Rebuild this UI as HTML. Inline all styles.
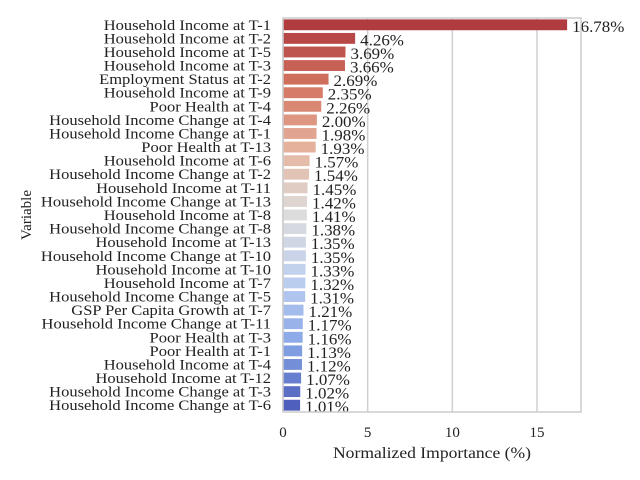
<!DOCTYPE html>
<html><head><meta charset="utf-8"><style>
body{margin:0;background:#fff}
svg{display:block;font-family:"Liberation Serif",serif}
</style></head><body>
<svg id="chart" width="640" height="480">
<g id="grid"></g><g id="bars"></g><g id="labels"></g><g id="frame"></g>
<text x="432" y="458" font-size="16" text-anchor="middle" fill="#222" textLength="198" lengthAdjust="spacingAndGlyphs">Normalized Importance (%)</text>
<text x="0" y="0" font-size="15" text-anchor="middle" fill="#222" transform="translate(31,215) rotate(-90)">Variable</text>
</svg>
<script>
const categories=["Household Income at T-1","Household Income at T-2","Household Income at T-5","Household Income at T-3","Employment Status at T-2","Household Income at T-9","Poor Health at T-4","Household Income Change at T-4","Household Income Change at T-1","Poor Health at T-13","Household Income at T-6","Household Income Change at T-2","Household Income at T-11","Household Income Change at T-13","Household Income at T-8","Household Income Change at T-8","Household Income at T-13","Household Income Change at T-10","Household Income at T-10","Household Income at T-7","Household Income Change at T-5","GSP Per Capita Growth at T-7","Household Income Change at T-11","Poor Health at T-3","Poor Health at T-1","Household Income at T-4","Household Income at T-12","Household Income Change at T-3","Household Income Change at T-6"];
const values=[16.78,4.26,3.69,3.66,2.69,2.35,2.26,2.00,1.98,1.93,1.57,1.54,1.45,1.42,1.41,1.38,1.35,1.35,1.33,1.32,1.31,1.21,1.17,1.16,1.13,1.12,1.07,1.02,1.01];
const xTicks=[0,5,10,15];
</script>
<script>
const NS="http://www.w3.org/2000/svg";
const L=283,R=581,T=18,B=412,XMAX=17.6;
const x=v=>L+v/XMAX*(R-L);
const n=values.length, step=(B-T)/n;
const y=i=>T+i*step;
function mk(tag,a,parent){const e=document.createElementNS(NS,tag);for(const k in a)e.setAttribute(k,a[k]);document.getElementById(parent).appendChild(e);return e;}
const stops=[[176,60,64],[212,118,98],[230,182,162],[220,220,220],[190,208,240],[138,167,232],[78,96,188]];
function col(t){const p=t*(stops.length-1),i=Math.min(Math.floor(p),stops.length-2),f=p-i;const a=stops[i],b=stops[i+1];return `rgb(${a.map((v,k)=>Math.round(v+(b[k]-v)*f)).join(',')})`;}
function stretch(el,k){const w=el.getComputedTextLength();el.setAttribute('textLength',w*k);el.setAttribute('lengthAdjust','spacingAndGlyphs');}
xTicks.forEach(t=>{
 const g=mk('line',{x1:x(t),x2:x(t),y1:T,y2:B,stroke:'#d0d0d0','stroke-width':1.5},'grid');
 
 
 const tl=mk('text',{x:x(t),y:437,'font-size':15,'text-anchor':'middle',fill:'#222'},'labels');
 tl.textContent=t;
 
 
});
values.forEach((v,i)=>{
 const h=step*0.8, yc=y(i)+step/2;
 const r=mk('rect',{x:L,y:yc-h/2,width:x(v)-L,height:h,fill:col(i/(n-1))},'bars');
 
 
 const vl=mk('text',{x:x(v)+5,y:yc+7,'font-size':16,fill:'#222'},'labels');
 vl.textContent=v.toFixed(2)+'%';
 
 
 stretch(vl,1.06);
 const cl=mk('text',{x:271,y:yc+5,'font-size':15,'text-anchor':'end',fill:'#222'},'labels');
 cl.textContent=categories[i];
 
 
 stretch(cl,1.1);
});
const f=mk('rect',{x:L,y:T,width:R-L,height:B-T,fill:'none',stroke:'#cccccc','stroke-width':1.5},'frame');


</script>
</body></html>
